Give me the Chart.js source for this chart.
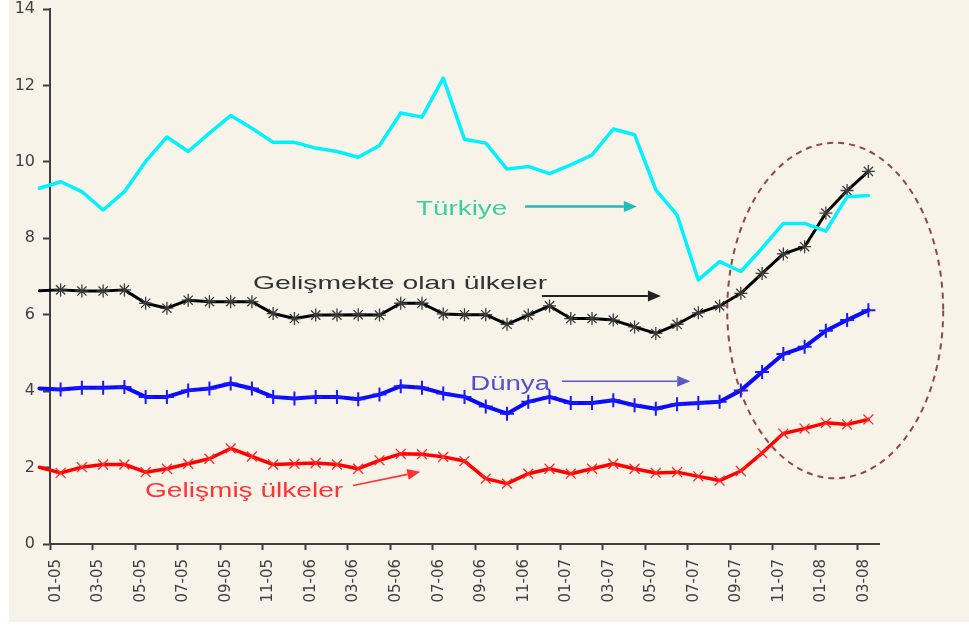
<!DOCTYPE html>
<html>
<head>
<meta charset="utf-8">
<script src="https://cdn.jsdelivr.net/npm/chart.js@4.4.0/dist/chart.umd.min.js"></script>
<style>
html,body{margin:0;padding:0;background:#ffffff;}
#g_wrap{width:969px;height:626px;}
</style>
</head>
<body>
<div id="g_wrap"><canvas id="g_tasas" width="969" height="626"></canvas></div>
<script>
// aylar: ilk nokta (12-04) eksenin solunda kalan kısa parça
let meses = ["12-04",
    "01-05","02-05","03-05","04-05","05-05","06-05","07-05","08-05","09-05","10-05","11-05","12-05",
    "01-06","02-06","03-06","04-06","05-06","06-06","07-06","08-06","09-06","10-06","11-06","12-06",
    "01-07","02-07","03-07","04-07","05-07","06-07","07-07","08-07","09-07","10-07","11-07","12-07",
    "01-08","02-08","03-08"];

let turkiye = [9.31,
    9.48, 9.22, 8.74, 9.22, 10.01, 10.65, 10.27, 10.75, 11.21, 10.88, 10.51, 10.51,
    10.36, 10.27, 10.12, 10.43, 11.28, 11.17, 12.19, 10.59, 10.49, 9.81, 9.88, 9.69,
    9.92, 10.18, 10.86, 10.71, 9.27, 8.61, 6.91, 7.39, 7.13, 7.74, 8.39, 8.39,
    8.19, 9.09, 9.12];

let gelismekte = [6.63,
    6.65, 6.62, 6.62, 6.65, 6.30, 6.17, 6.38, 6.34, 6.34, 6.34, 6.03, 5.90,
    5.99, 5.99, 6.00, 5.99, 6.30, 6.30, 6.02, 6.00, 6.00, 5.75, 5.99, 6.23,
    5.90, 5.90, 5.86, 5.68, 5.51, 5.75, 6.05, 6.23, 6.56, 7.08, 7.59, 7.78,
    8.66, 9.25, 9.75];

let dunya = [4.07,
    4.04, 4.09, 4.09, 4.11, 3.85, 3.85, 4.02, 4.07, 4.20, 4.07, 3.85, 3.81,
    3.85, 3.85, 3.79, 3.91, 4.13, 4.09, 3.94, 3.85, 3.60, 3.41, 3.72, 3.85,
    3.69, 3.69, 3.76, 3.63, 3.54, 3.66, 3.69, 3.72, 4.02, 4.50, 4.97, 5.16,
    5.58, 5.86, 6.12];

let gelismis = [2.01,
    1.86, 2.01, 2.08, 2.08, 1.88, 1.97, 2.10, 2.23, 2.50, 2.29, 2.08, 2.10,
    2.12, 2.08, 1.97, 2.19, 2.36, 2.35, 2.28, 2.17, 1.71, 1.58, 1.84, 1.97,
    1.84, 1.97, 2.10, 1.97, 1.86, 1.88, 1.77, 1.66, 1.91, 2.38, 2.89, 3.02,
    3.17, 3.13, 3.26];

let gris = "#404040";
let fuente_x = {family: "DejaVu Sans", size: 15};
let fuente_y = {family: "DejaVu Sans", size: 16, lineHeight: 1};

function puntos(arr){
    return arr.map(function(v, i){ return {x: i - 1, y: v}; });
}

function radios(arr, r){
    return arr.map(function(v, i){ return i === 0 ? 0 : r; });
}

function texto(c, t, px, py, font, color, sx){
    c.save();
    c.font = font;
    c.fillStyle = color;
    c.textBaseline = "alphabetic";
    c.translate(px, py);
    c.scale(sx, 1);
    c.fillText(t, 0, 0);
    c.restore();
}

function flecha(c, x1, y1, x2, y2, color, w, head){
    let a = Math.atan2(y2 - y1, x2 - x1);
    let bx = x2 - head * Math.cos(a);
    let by = y2 - head * Math.sin(a);
    let hw = head * 0.42;
    c.save();
    c.strokeStyle = color;
    c.fillStyle = color;
    c.lineWidth = w;
    c.beginPath();
    c.moveTo(x1, y1);
    c.lineTo(bx, by);
    c.stroke();
    c.beginPath();
    c.moveTo(x2, y2);
    c.lineTo(bx + hw * Math.sin(a), by - hw * Math.cos(a));
    c.lineTo(bx - hw * Math.sin(a), by + hw * Math.cos(a));
    c.closePath();
    c.fill();
    c.restore();
}

let fondo = {
    id: "fondo",
    beforeDraw: function(chart){
        let c = chart.ctx;
        c.save();
        c.fillStyle = "#f8f3e8";
        c.fillRect(9, 0, chart.width - 9, chart.height - 4);
        c.restore();
    }
};

// notas y flechas, en unidades de los ejes (x = mes, y = valor)
let notas = {
    id: "notas",
    afterDraw: function(chart){
        let c = chart.ctx;
        let sx = chart.scales.x;
        let sy = chart.scales.y;
        let X = function(v){ return sx.getPixelForValue(v); };
        let Y = function(v){ return sy.getPixelForValue(v); };

        // elipse punteada
        c.save();
        c.strokeStyle = "rgba(128,40,40,0.85)";
        c.lineWidth = 2;
        c.setLineDash([6, 5]);
        c.beginPath();
        c.ellipse(X(36.44), Y(6.11), X(36.44 + 5.08) - X(36.44), Y(6.11) - Y(6.11 + 4.39), 0, 0, Math.PI * 2);
        c.stroke();
        c.restore();

        texto(c, "Türkiye", X(16.72), Y(8.61), "20px 'Liberation Sans', Arial", "#3ccf9e", 1.39);
        flecha(c, X(21.85), Y(8.83), X(27.11), Y(8.83), "#1fbcbc", 2.5, 13);

        texto(c, "Gelişmekte olan ülkeler", X(9.05), Y(6.68), "18.5px 'Liberation Sans', Arial", "#333333", 1.53);
        flecha(c, X(22.64), Y(6.49), X(28.24), Y(6.49), "#222222", 2, 13);

        texto(c, "Dünya", X(19.27), Y(4.02), "20px 'Liberation Sans', Arial", "#5050c8", 1.38);
        flecha(c, X(23.58), Y(4.26), X(29.62), Y(4.26), "#5a5acc", 1.6, 13);

        texto(c, "Gelişmiş ülkeler", X(3.97), Y(1.22), "19.5px 'Liberation Sans', Arial", "#ff3333", 1.44);
        flecha(c, X(13.76), Y(1.53), X(16.92), Y(1.89), "#ff3333", 1.6, 13);
    }
};

let ctx = document.getElementById("g_tasas").getContext("2d");
let g_tasas = new Chart(ctx, {
    type: "line",
    data: {
        datasets: [
            {
                label: "Türkiye",
                data: puntos(turkiye),
                borderColor: "#00f2ff",
                borderWidth: 3.5,
                pointRadius: 0,
                clip: false
            },
            {
                label: "Gelişmekte olan ülkeler",
                data: puntos(gelismekte),
                borderColor: "#000000",
                borderWidth: 3,
                pointStyle: "star",
                pointRadius: radios(gelismekte, 6.5),
                pointBorderColor: "#3a3a3a",
                pointBorderWidth: 1.3,
                clip: false
            },
            {
                label: "Dünya",
                data: puntos(dunya),
                borderColor: "#0a0aff",
                borderWidth: 4,
                pointStyle: "cross",
                pointRadius: radios(dunya, 7),
                pointBorderColor: "#1a1aff",
                pointBorderWidth: 2,
                clip: false
            },
            {
                label: "Gelişmiş ülkeler",
                data: puntos(gelismis),
                borderColor: "#ff0000",
                borderWidth: 3.5,
                pointStyle: "crossRot",
                pointRadius: radios(gelismis, 7),
                pointBorderColor: "#ff2a2a",
                pointBorderWidth: 1.3,
                clip: false
            }
        ]
    },
    options: {
        responsive: false,
        animation: false,
        events: [],
        elements: {
            line: { tension: 0, borderJoinStyle: "round", borderCapStyle: "round" }
        },
        layout: {
            padding: { left: 10, right: 90, top: 0, bottom: 0 }
        },
        plugins: {
            legend: { display: false },
            tooltip: { enabled: false }
        },
        scales: {
            x: {
                type: "linear",
                min: -0.5,
                max: 38.5,
                afterBuildTicks: function(s){
                    let t = [];
                    for(let k = 0; k < 20; k++){
                        t.push({value: -0.5 + 2 * k});
                    }
                    s.ticks = t;
                },
                afterFit: function(s){ s.height = 82; },
                grid: {
                    drawOnChartArea: false,
                    tickLength: 6,
                    tickColor: gris,
                    tickWidth: 2
                },
                border: { color: gris, width: 2 },
                ticks: {
                    autoSkip: false,
                    minRotation: 90,
                    maxRotation: 90,
                    labelOffset: 6,
                    padding: 9,
                    color: gris,
                    font: fuente_x,
                    callback: function(v){
                        return meses[Math.round(v + 0.5) + 1];
                    }
                }
            },
            y: {
                min: 0,
                max: 14,
                afterFit: function(s){
                    s.width = 40;
                    s.paddingTop = 9;
                    s.paddingBottom = 0;
                },
                grid: {
                    drawOnChartArea: false,
                    tickLength: 7,
                    tickColor: gris,
                    tickWidth: 2
                },
                border: { color: gris, width: 2 },
                ticks: {
                    stepSize: 2,
                    padding: 8,
                    color: gris,
                    font: fuente_y
                }
            }
        }
    },
    plugins: [fondo, notas]
});
</script>
</body>
</html>
